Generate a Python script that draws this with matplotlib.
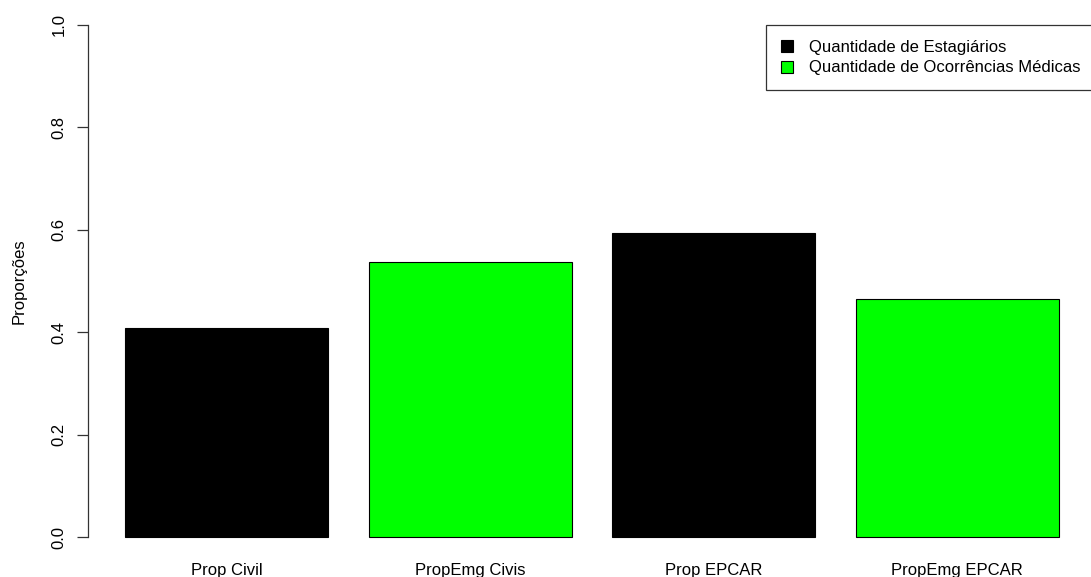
import matplotlib.pyplot as plt

plt.rcParams['font.family'] = ['Liberation Sans', 'DejaVu Sans']

# dados
categorias = ['Prop Civil', 'PropEmg Civis', 'Prop EPCAR', 'PropEmg EPCAR']
proporcoes = [0.408, 0.537, 0.594, 0.465]
cores = ['black', '#00FF00', 'black', '#00FF00']
legenda = ['Quantidade de Estagiários', 'Quantidade de Ocorrências Médicas']
legenda_cores = ['black', '#00FF00']

fig = plt.figure(figsize=(10.91, 5.77), dpi=100)
ax = fig.add_axes([87.7 / 1091, 19.5 / 577, 1008.3 / 1091, 553 / 577])

# posicoes estilo barplot do R (width 1, space 0.2)
pos = [0.7 + 1.2 * i for i in range(len(categorias))]
ax.bar(pos, proporcoes, width=1.0, color=cores, edgecolor='black', linewidth=0.8)

ax.set_xlim(0.016, 4.984)
ax.set_ylim(-0.04, 1.04)

for s in ['top', 'right', 'bottom']:
    ax.spines[s].set_visible(False)
ax.spines['left'].set_bounds(0, 1)
ax.spines['left'].set_color('#333333')
ax.spines['left'].set_linewidth(0.9)

ax.set_yticks([0, 0.2, 0.4, 0.6, 0.8, 1.0])
ax.set_yticklabels(['0.0', '0.2', '0.4', '0.6', '0.8', '1.0'], rotation=90, va='center')
ax.tick_params(axis='y', length=8, width=0.9, color='#333333', pad=7, labelsize=12)

ax.set_xticks(pos)
ax.set_xticklabels(categorias)
ax.tick_params(axis='x', length=0, pad=4, labelsize=12)

ax.set_ylabel('Proporções', fontsize=12)
ax.yaxis.set_label_coords(-0.061, 0.5)

handles = [plt.Rectangle((0, 0), 1, 1, facecolor=c, edgecolor='black', linewidth=0.8)
           for c in legenda_cores]
leg = ax.legend(handles, legenda, loc='upper right', bbox_to_anchor=(4.984, 1.0),
                bbox_transform=ax.transData, fontsize=12, frameon=True, fancybox=False,
                borderpad=0.9, labelspacing=0.33, handlelength=0.72, handleheight=0.72,
                handletextpad=1.0, borderaxespad=0)
leg.get_frame().set_edgecolor('black')
leg.get_frame().set_linewidth(0.9)

fig.savefig('out.png', dpi=100)
